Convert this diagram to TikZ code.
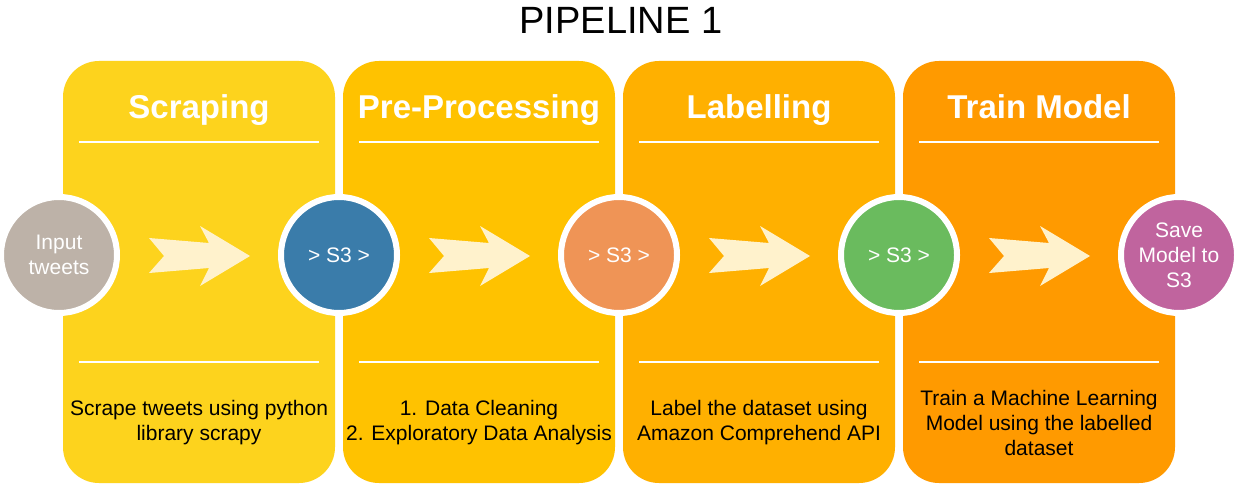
\documentclass[tikz,border=0pt]{standalone}
\usepackage{fontspec}
\setmainfont{Liberation Sans}
\definecolor{panelA}{HTML}{FDD31D}
\definecolor{panelB}{HTML}{FFC200}
\definecolor{panelC}{HTML}{FFB000}
\definecolor{panelD}{HTML}{FF9A00}
\definecolor{arrowc}{HTML}{FFF2CC}
\definecolor{cgray}{HTML}{BDB2A8}
\definecolor{cblue}{HTML}{3A7CAA}
\definecolor{corange}{HTML}{EF9456}
\definecolor{cgreen}{HTML}{6ABB5E}
\definecolor{cpurple}{HTML}{C0649E}
\begin{document}
\begin{tikzpicture}[x=1pt,y=-1pt,
  panel/.style={rounded corners=36pt, minimum width=272pt, minimum height=422pt, inner sep=0pt, draw=none},
  heading/.style={text=white, font=\bfseries\fontsize{33}{40}\selectfont, anchor=base, inner sep=0pt},
  desc/.style={align=center, font=\fontsize{21}{25}\selectfont, inner sep=0pt},
  stage/.style={circle, draw=white, line width=6pt, minimum size=116pt, inner sep=0pt, text=white, align=center, font=\fontsize{21}{25}\selectfont},
  sep/.style={draw=white, line width=1.5pt},
  flow/.style={fill=arrowc}
]
\useasboundingbox[fill=white] (0,0) rectangle (1241,492);

\node[font=\fontsize{38}{44}\selectfont, anchor=base, inner sep=0pt] (title) at (621,34) {PIPELINE 1};

\node[panel, fill=panelA] (p1) at (199,272) {};
\node[panel, fill=panelB] (p2) at (479,272) {};
\node[panel, fill=panelC] (p3) at (759,272) {};
\node[panel, fill=panelD] (p4) at (1039,272) {};

\foreach \cx in {199,479,759,1039}{
  \draw[sep] (\cx-120,142) -- (\cx+120,142);
  \draw[sep] (\cx-120,362) -- (\cx+120,362);
}

\foreach \ax in {149,429,709,989}{
  \fill[flow] (\ax,238) -- (\ax+60,243) -- (\ax+51,226) -- (\ax+101,256) -- (\ax+51,286) -- (\ax+60,268) -- (\ax,273) -- (\ax+15,256) -- cycle;
}

\node[stage, fill=cgray] (c0) at (59,255) {Input\\tweets};
\node[stage, fill=cblue] (c1) at (339,255) {> S3 >};
\node[stage, fill=corange] (c2) at (619,255) {> S3 >};
\node[stage, fill=cgreen] (c3) at (899,255) {> S3 >};
\node[stage, fill=cpurple] (c4) at (1179,255) {Save\\Model to\\S3};

\node[heading] (h1) at (199,118) {Scraping};
\node[heading] (h2) at (479,118) {Pre-Processing};
\node[heading] (h3) at (759,118) {Labelling};
\node[heading] (h4) at (1039,118) {Train Model};

\node[desc] (d1) at (199,423) {Scrape tweets using python\\library scrapy};
\node[desc] (d2) at (479,423) {1. Data Cleaning\\2. Exploratory Data Analysis};
\node[desc] (d3) at (759,423) {Label the dataset using\\Amazon Comprehend API};
\node[desc] (d4) at (1039,423) {Train a Machine Learning\\Model using the labelled\\dataset};
\end{tikzpicture}
\end{document}
